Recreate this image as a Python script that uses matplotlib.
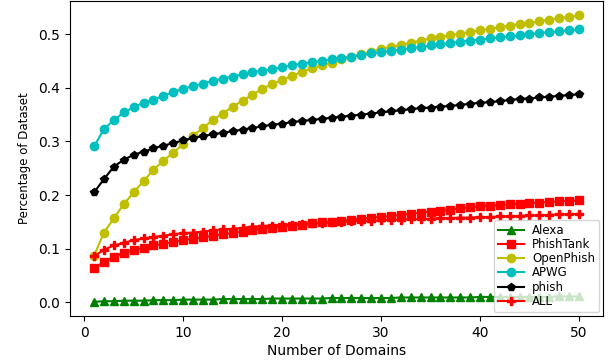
import matplotlib
matplotlib.use("Agg")
import matplotlib.pyplot as plt
from matplotlib import font_manager

domains = list(range(1, 51))

alexa = [0.001, 0.002, 0.002, 0.003, 0.003, 0.003, 0.004, 0.004, 0.004, 0.005,
         0.005, 0.005, 0.005, 0.006, 0.006, 0.006, 0.006, 0.006, 0.007, 0.007,
         0.007, 0.007, 0.007, 0.007, 0.008, 0.008, 0.008, 0.008, 0.008, 0.008,
         0.008, 0.009, 0.009, 0.009, 0.009, 0.009, 0.009, 0.009, 0.009, 0.010,
         0.010, 0.010, 0.010, 0.010, 0.010, 0.010, 0.010, 0.011, 0.011, 0.011]

phishtank = [0.064, 0.075, 0.085, 0.092, 0.097, 0.102, 0.106, 0.109, 0.112, 0.116,
             0.118, 0.121, 0.124, 0.127, 0.129, 0.132, 0.135, 0.137, 0.139, 0.141,
             0.143, 0.145, 0.147, 0.149, 0.150, 0.152, 0.154, 0.156, 0.158, 0.159,
             0.161, 0.163, 0.165, 0.167, 0.169, 0.171, 0.173, 0.175, 0.177, 0.179,
             0.180, 0.181, 0.183, 0.184, 0.185, 0.186, 0.187, 0.188, 0.189, 0.190]

openphish = [0.087, 0.130, 0.157, 0.183, 0.205, 0.226, 0.247, 0.264, 0.279, 0.295,
             0.311, 0.325, 0.340, 0.352, 0.365, 0.376, 0.387, 0.398, 0.407, 0.415,
             0.422, 0.430, 0.436, 0.442, 0.447, 0.453, 0.458, 0.463, 0.467, 0.472,
             0.476, 0.480, 0.484, 0.488, 0.492, 0.495, 0.498, 0.501, 0.504, 0.507,
             0.510, 0.513, 0.516, 0.519, 0.521, 0.524, 0.527, 0.530, 0.532, 0.535]

apwg = [0.291, 0.323, 0.340, 0.354, 0.364, 0.372, 0.378, 0.385, 0.392, 0.398,
        0.403, 0.408, 0.413, 0.417, 0.421, 0.425, 0.429, 0.432, 0.435, 0.438,
        0.442, 0.445, 0.448, 0.450, 0.453, 0.455, 0.458, 0.461, 0.464, 0.466,
        0.469, 0.471, 0.474, 0.476, 0.479, 0.481, 0.483, 0.486, 0.488, 0.490,
        0.492, 0.494, 0.496, 0.498, 0.500, 0.502, 0.504, 0.505, 0.507, 0.509]

phish = [0.205, 0.230, 0.253, 0.266, 0.275, 0.281, 0.287, 0.292, 0.297, 0.302,
         0.306, 0.310, 0.313, 0.316, 0.319, 0.322, 0.325, 0.328, 0.331, 0.333,
         0.336, 0.338, 0.340, 0.342, 0.344, 0.346, 0.348, 0.350, 0.352, 0.354,
         0.356, 0.358, 0.360, 0.362, 0.363, 0.365, 0.366, 0.368, 0.370, 0.372,
         0.373, 0.375, 0.377, 0.379, 0.380, 0.382, 0.383, 0.385, 0.386, 0.388]

all_sets = [0.086, 0.098, 0.106, 0.111, 0.116, 0.119, 0.122, 0.124, 0.127, 0.129,
            0.130, 0.132, 0.134, 0.136, 0.137, 0.139, 0.141, 0.142, 0.143, 0.144,
            0.145, 0.146, 0.147, 0.148, 0.149, 0.150, 0.151, 0.152, 0.152, 0.153,
            0.154, 0.154, 0.155, 0.155, 0.156, 0.157, 0.157, 0.158, 0.158, 0.159,
            0.159, 0.160, 0.160, 0.161, 0.162, 0.162, 0.163, 0.164, 0.164, 0.165]

series = [
    ("Alexa", alexa, "g", "^"),
    ("PhishTank", phishtank, "r", "s"),
    ("OpenPhish", openphish, "y", "o"),
    ("APWG", apwg, "c", "o"),
    ("phish", phish, "k", "p"),
    ("ALL", all_sets, "r", "P"),
]

fig = plt.figure(figsize=(6.13, 3.6), dpi=100)
ax = fig.add_axes([0.114, 0.122, 0.870, 0.875])

for label, vals, color, marker in series:
    ax.plot(domains, vals, color=color, marker=marker, markersize=6,
            linewidth=1.5, label=label)

ax.set_xticks([0, 10, 20, 30, 40, 50])
ax.set_yticks([0.0, 0.1, 0.2, 0.3, 0.4, 0.5])
ax.tick_params(labelsize=10)
ax.set_xlabel("Number of Domains", fontsize=10, labelpad=3)

names = {f.name for f in font_manager.fontManager.ttflist}
if "Liberation Sans Narrow" in names:
    ax.set_ylabel("Percentage of Dataset", fontsize=10.5,
                  family="Liberation Sans Narrow", labelpad=5)
else:
    ax.set_ylabel("Percentage of Dataset", fontsize=8.5, labelpad=5)

ax.legend(loc="lower right", fontsize=8.5, handlelength=2.2,
          labelspacing=0.1, borderpad=0.35, borderaxespad=0.35,
          handletextpad=0.7, framealpha=0.8)

fig.savefig("out.png", dpi=100)
